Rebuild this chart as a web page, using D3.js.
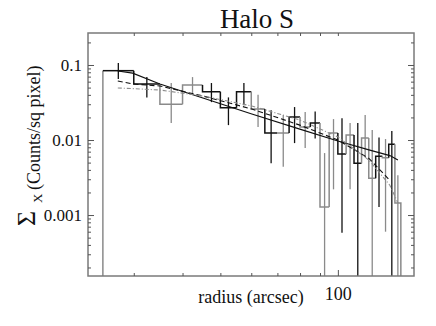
<!DOCTYPE html>
<html>
<head>
<meta charset="utf-8">
<script src="https://cdn.jsdelivr.net/npm/d3@7"></script>
<style>
  body { margin: 0; background: #fff; }
  text { font-family: "Liberation Serif", "DejaVu Serif", serif; fill: #111; }
</style>
</head>
<body>
<div id="chart"></div>
<script>
// histogram bins (arcsec), 5" wide
const binEdges = [25, 30, 35, 40, 45, 50, 55, 60, 65, 70, 75, 80, 85, 90, 95, 100, 105, 110, 115, 120, 125, 130, 135, 140, 145];
const binValues = [0.084, 0.056, 0.030, 0.054, 0.044, 0.027, 0.044, 0.026, 0.0124, 0.0124, 0.0203, 0.0149,
                   0.0169, 0.00128, 0.0124, 0.0065, 0.0117, 0.0049, 0.0106, 0.0031, 0.0061, 0.0058, 0.0088, 0.00145];
const errHigh = [0.106, 0.069, 0.0575, 0.069, 0.0575, 0.037, 0.0575, 0.040, 0.025, 0.0216, 0.0275, 0.0236,
                 0.024, 0.0067, 0.019, 0.0195, 0.0169, 0.0169, 0.0216, 0.0136, 0.0108, 0.0103, 0.0132, 0.0034];
const errLow = [0.065, 0.037, 0.0169, 0.040, 0.032, 0.0158, 0.029, 0.0149, 0.0049, 0.0044, 0.0091, 0.0078,
                0.0105, 0, 0.0022, 0.00058, 0.0022, 0, 0.0059, 0, 0.00128, 0.0006, 0, 0];
const binShade = ['k', 'k', 'g', 'g', 'k', 'k', 'k', 'g', 'k', 'g', 'k', 'g',
                  'k', 'g', 'g', 'k', 'g', 'k', 'g', 'g', 'k', 'g', 'k', 'g'];

// model profiles
const modelR = [27.3, 29.8, 35.0, 45.1, 60.2, 79.9, 100, 120.1, 135.9, 142.5];
const modelSolid = [0.0832, 0.078, 0.0558, 0.0363, 0.0222, 0.0140, 0.0097, 0.0074, 0.0062, 0.0054];
const modelDashed = [0.0612, 0.0558, 0.0525, 0.0386, 0.0259, 0.0158, 0.0100, 0.0057, 0.0029, null];
const modelDotted = [0.0494, 0.0485, 0.0464, 0.0386, 0.0284, 0.0185, 0.0110, 0.0054, 0.0025, 0.00145];

const yMajor = [0.1, 0.01, 0.001];
const xMajor = [100];
const xMinor = [30, 40, 50, 60, 70, 80, 90];

const W = 436, H = 326;
const margin = {top: 33, right: 22, bottom: 50, left: 88};
const serif = '"Liberation Serif", "DejaVu Serif", serif';

const svg = d3.select('#chart').append('svg')
    .attr('width', W)
    .attr('height', H);

const x = d3.scaleLog()
    .domain([22.9, 156.7])
    .range([margin.left, W - margin.right]);

const y = d3.scaleLog()
    .domain([1.54e-4, 0.267])
    .range([H - margin.bottom, margin.top])
    .clamp(true);

const yMinor = [];
[1e-4, 1e-3, 1e-2, 1e-1].forEach(d => {
    for (let k = 2; k <= 9; k++) {
        const v = d * k;
        if (v > y.domain()[0] && v < y.domain()[1]) yMinor.push(v);
    }
});

svg.append('defs').append('clipPath').attr('id', 'plot')
    .append('rect')
    .attr('x', margin.left).attr('y', margin.top)
    .attr('width', W - margin.left - margin.right)
    .attr('height', H - margin.top - margin.bottom);

const plot = svg.append('g').attr('clip-path', 'url(#plot)');
const shadeColor = s => s === 'k' ? '#111' : '#8a8a8a';
const yBottom = H - margin.bottom;

// histogram steps
binValues.forEach((v, i) => {
    const x0 = x(binEdges[i]), x1 = x(binEdges[i + 1]);
    if (i === 0) {
        // left edge rising from the floor
        plot.append('line')
            .attr('x1', x0).attr('x2', x0)
            .attr('y1', yBottom).attr('y2', y(v))
            .attr('stroke', shadeColor('g'))
            .attr('stroke-width', 1.5);
    }
    const yPrev = i === 0 ? y(v) : y(binValues[i - 1]);
    let pts = [[x0, yPrev], [x0, y(v)], [x1, y(v)]];
    if (i === binValues.length - 1) pts.push([x1, yBottom]);
    plot.append('path')
        .attr('d', d3.line()(pts))
        .attr('fill', 'none')
        .attr('stroke', shadeColor(binShade[i]))
        .attr('stroke-width', 1.5);
});

// error bars at bin centres
binValues.forEach((v, i) => {
    const xc = x(Math.sqrt(binEdges[i] * binEdges[i + 1]));
    plot.append('line')
        .attr('x1', xc).attr('x2', xc)
        .attr('y1', y(errHigh[i]))
        .attr('y2', errLow[i] > 0 ? y(errLow[i]) : yBottom)
        .attr('stroke', shadeColor(binShade[i]))
        .attr('stroke-width', 1.3);
});

// model curves
const curve = arr => d3.line()
    .defined((d, i) => arr[i] !== null)
    .x((d, i) => x(modelR[i]))
    .y((d, i) => y(arr[i]))(modelR);

plot.append('path').attr('d', curve(modelSolid))
    .attr('fill', 'none').attr('stroke', '#111').attr('stroke-width', 1.2);
plot.append('path').attr('d', curve(modelDashed))
    .attr('fill', 'none').attr('stroke', '#111').attr('stroke-width', 1.1)
    .attr('stroke-dasharray', '5,3');
plot.append('path').attr('d', curve(modelDotted))
    .attr('fill', 'none').attr('stroke', '#8c8c8c').attr('stroke-width', 1.1)
    .attr('stroke-dasharray', '4,2,1,2');

// frame
svg.append('rect')
    .attr('x', margin.left).attr('y', margin.top)
    .attr('width', W - margin.left - margin.right)
    .attr('height', H - margin.top - margin.bottom)
    .attr('fill', 'none')
    .attr('stroke', '#7a7a7a')
    .attr('stroke-width', 1.5);

// axes (ticks inward)
const styleAxis = g => {
    g.attr('font-family', serif);
    g.select('.domain').remove();
    g.selectAll('.tick line').attr('stroke', '#555');
    g.selectAll('.tick text')
        .attr('font-family', serif)
        .style('font-family', serif)
        .attr('fill', '#111');
};

svg.append('g')
    .attr('transform', `translate(${margin.left},0)`)
    .call(d3.axisLeft(y).tickValues(yMajor).tickSizeInner(-6).tickSizeOuter(0).tickPadding(6)
        .tickFormat(d3.format('')))
    .call(styleAxis)
    .selectAll('.tick text').style('font-size', '17px');

svg.append('g')
    .attr('transform', `translate(${margin.left},0)`)
    .call(d3.axisLeft(y).tickValues(yMinor).tickSizeInner(-3).tickSizeOuter(0).tickFormat(''))
    .call(styleAxis);

svg.append('g')
    .attr('transform', `translate(${W - margin.right},0)`)
    .call(d3.axisRight(y).tickValues(yMajor).tickSizeInner(-6).tickSizeOuter(0).tickFormat(''))
    .call(styleAxis);

svg.append('g')
    .attr('transform', `translate(${W - margin.right},0)`)
    .call(d3.axisRight(y).tickValues(yMinor).tickSizeInner(-3).tickSizeOuter(0).tickFormat(''))
    .call(styleAxis);

svg.append('g')
    .attr('transform', `translate(0,${yBottom})`)
    .call(d3.axisBottom(x).tickValues(xMajor).tickSizeInner(-6).tickSizeOuter(0).tickPadding(11)
        .tickFormat(d3.format('')))
    .call(styleAxis)
    .selectAll('.tick text').style('font-size', '18px');

svg.append('g')
    .attr('transform', `translate(0,${yBottom})`)
    .call(d3.axisBottom(x).tickValues(xMinor).tickSizeInner(-3).tickSizeOuter(0).tickFormat(''))
    .call(styleAxis);

svg.append('g')
    .attr('transform', `translate(0,${margin.top})`)
    .call(d3.axisTop(x).tickValues(xMajor.concat(xMinor)).tickSizeInner(-3).tickSizeOuter(0).tickFormat(''))
    .call(styleAxis);

// title and labels
svg.append('text')
    .attr('x', 257).attr('y', 28)
    .attr('text-anchor', 'middle')
    .style('font-size', '27px')
    .text('Halo S');

svg.append('text')
    .attr('x', 251).attr('y', 303)
    .attr('text-anchor', 'middle')
    .style('font-size', '18px')
    .text('radius (arcsec)');

svg.append('text')
    .attr('transform', 'translate(35,226) rotate(-90)')
    .style('font-size', '26px')
    .text('Σ');

svg.append('text')
    .attr('transform', 'translate(42,203) rotate(-90)')
    .style('font-size', '13px')
    .text('X');

svg.append('text')
    .attr('transform', 'translate(40,190) rotate(-90)')
    .style('font-size', '18px')
    .text('(Counts/sq pixel)');
</script>
</body>
</html>
